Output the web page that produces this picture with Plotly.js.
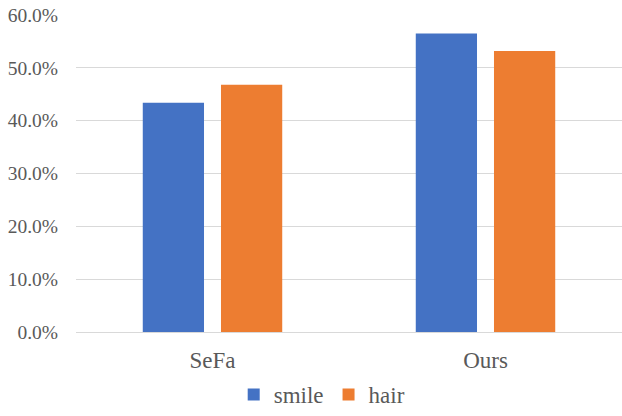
<!DOCTYPE html>
<html>
<head>
<meta charset="utf-8">
<script src="https://cdn.plot.ly/plotly-3.0.1.min.js"></script>
<style>html,body{margin:0;padding:0;background:#fff}</style>
</head>
<body>
<div id="chart" style="width:622px;height:416px"></div>
<script>
const categories = ["SeFa", "Ours"];
const smile = [0.434, 0.565];
const hair = [0.468, 0.532];
const seriesNames = ["smile", "hair"];
const colors = ["#4472C4", "#ED7D31"];
const yTicks = [0, 0.1, 0.2, 0.3, 0.4, 0.5, 0.6];

const chartFamily = "Liberation Serif";
const textColor = "#595959";

const traces = [
  {type: "bar", name: seriesNames[0], x: categories, y: smile, marker: {color: colors[0]}},
  {type: "bar", name: seriesNames[1], x: categories, y: hair, marker: {color: colors[1]}}
];

const chartLayout = {
  width: 622, height: 416,
  margin: {l: 76, r: 0, t: 15, b: 78},
  barmode: "group",
  bargap: 0.427,
  bargroupgap: 0.217,
  font: {family: chartFamily, size: 19},
  xaxis: {
    showgrid: false, zeroline: false, showline: false,
    ticks: "", ticklabelstandoff: 12,
    tickfont: {family: chartFamily, size: 23, color: textColor}
  },
  yaxis: {
    range: [0, 0.6], tickvals: yTicks, tickformat: ".1%",
    gridcolor: "#d9d9d9", zerolinecolor: "#d9d9d9",
    ticks: "", ticklabelstandoff: 17,
    tickfont: {family: chartFamily, size: 19.5, color: textColor}
  },
  legend: {
    orientation: "h", x: 0.45, xanchor: "center", y: -0.13, yanchor: "top",
    font: {family: chartFamily, size: 23, color: textColor}
  }
};

Plotly.newPlot("chart", traces, chartLayout, {staticPlot: true});
</script>
</body>
</html>
